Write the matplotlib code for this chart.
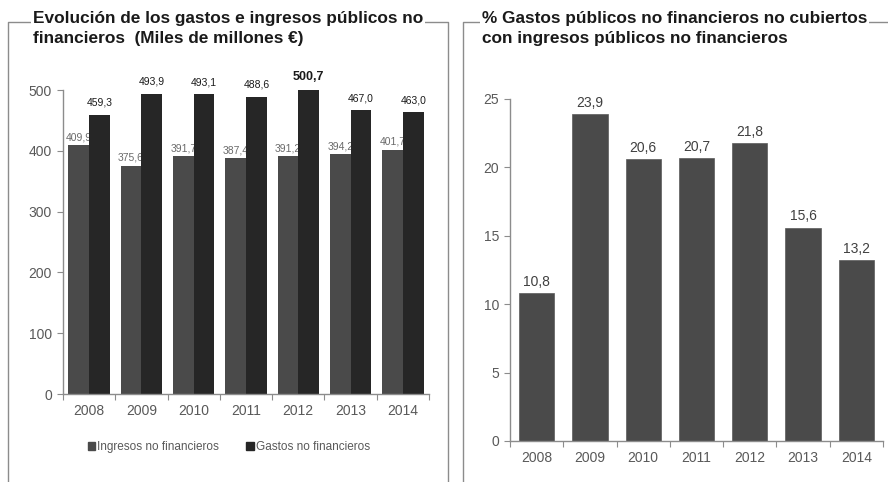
import numpy as np
import matplotlib
matplotlib.use('Agg')
import matplotlib.pyplot as plt
from matplotlib.lines import Line2D
from matplotlib.patches import Rectangle

plt.rcParams['font.family'] = ['Liberation Sans', 'DejaVu Sans']

# datos
years = ['2008', '2009', '2010', '2011', '2012', '2013', '2014']
ingresos = [409.9, 375.6, 391.7, 387.4, 391.2, 394.2, 401.7]
gastos = [459.3, 493.9, 493.1, 488.6, 500.7, 467.0, 463.0]
pct_no_cubierto = [10.8, 23.9, 20.6, 20.7, 21.8, 15.6, 13.2]

c_ing = '#4a4a4a'
c_gas = '#262626'
c_axis = '#8c8c8c'
c_txt = '#595959'


def fmt(v):
    return ('%.1f' % v).replace('.', ',')


def estilo_ejes(ax, n):
    for s in ['top', 'right']:
        ax.spines[s].set_visible(False)
    for s in ['left', 'bottom']:
        ax.spines[s].set_color(c_axis)
        ax.spines[s].set_linewidth(1.0)
    ax.set_xlim(-0.5, n - 0.5)
    # marcas entre categorias, etiquetas en el centro
    ax.set_xticks(np.arange(-0.5, n, 1.0))
    ax.set_xticklabels([])
    ax.set_xticks(np.arange(n), minor=True)
    ax.set_xticklabels(years, minor=True)
    ax.tick_params(axis='x', which='major', length=4, color=c_axis, direction='out')
    ax.tick_params(axis='x', which='minor', length=0, pad=7, labelsize=10, labelcolor=c_txt)
    ax.tick_params(axis='y', length=4, color=c_axis, direction='out', pad=4,
                   labelsize=10, labelcolor=c_txt)


fig = plt.figure(figsize=(8.88, 4.82), dpi=100)
W, H = 888.0, 482.0


def px(x, y):
    return x / W, 1 - y / H


# marcos de los dos paneles
for xs, ys in [([8, 8, 448, 448], [482, 22, 22, 482]),
               ([463, 463, 888], [482, 22, 22])]:
    fig.add_artist(Line2D([x / W for x in xs], [1 - y / H for y in ys],
                          color='#8c8c8c', lw=1.0, transform=fig.transFigure))

# --- grafico izquierdo: ingresos y gastos ---
ax1 = fig.add_axes([63 / W, 1 - 394 / H, 366 / W, 304 / H])
x = np.arange(len(years))
w = 0.396
ax1.bar(x - w / 2, ingresos, w, color=c_ing, zorder=1)
ax1.bar(x + w / 2, gastos, w, color=c_gas, zorder=2)
ax1.set_ylim(0, 500)
ax1.set_yticks(np.arange(0, 501, 100))
estilo_ejes(ax1, len(years))

for i, v in enumerate(ingresos):
    ax1.annotate(fmt(v), (x[i] - w / 2, v), xytext=(0, 2), textcoords='offset points',
                 ha='center', va='bottom', fontsize=7.5, color='#6a6a6a', zorder=1.5,
                 annotation_clip=False)
for i, v in enumerate(gastos):
    bold = v == max(gastos)
    ax1.annotate(fmt(v), (x[i] + w / 2, v), xytext=(0, 5), textcoords='offset points',
                 ha='center', va='bottom', fontsize=9 if bold else 7.5,
                 fontweight='bold' if bold else 'normal', color='#1a1a1a', zorder=3,
                 annotation_clip=False)

handles = [Rectangle((0, 0), 1, 1, color=c_ing), Rectangle((0, 0), 1, 1, color=c_gas)]
fig.legend(handles, ['Ingresos no financieros', 'Gastos no financieros'],
           loc='center', bbox_to_anchor=(px(229, 447)), ncol=2, frameon=False,
           handlelength=0.6, handleheight=0.6, handletextpad=0.2, columnspacing=2.3,
           fontsize=8.5, labelcolor=c_txt)

# --- grafico derecho: % gastos no cubiertos ---
ax2 = fig.add_axes([510 / W, 1 - 441 / H, 373 / W, 342 / H])
ax2.bar(x, pct_no_cubierto, 0.66, color=c_ing, edgecolor='#5a5a5a', linewidth=0.5)
ax2.set_ylim(0, 25)
ax2.set_yticks(np.arange(0, 26, 5))
estilo_ejes(ax2, len(years))
for i, v in enumerate(pct_no_cubierto):
    ax2.annotate(fmt(v), (x[i], v), xytext=(0, 3), textcoords='offset points',
                 ha='center', va='bottom', fontsize=10, color='#404040',
                 annotation_clip=False)

# titulos sobre el borde de los marcos
tb = dict(facecolor='white', edgecolor='none', pad=1.5)
fig.text(*px(33, 11), 'Evolución de los gastos e ingresos públicos no\n'
         'financieros  (Miles de millones €)', ha='left', va='top',
         fontsize=12.4, fontweight='bold', color='#1a1a1a', linespacing=1.45, bbox=tb)
fig.text(*px(482, 11), '% Gastos públicos no financieros no cubiertos\n'
         'con ingresos públicos no financieros', ha='left', va='top',
         fontsize=12.4, fontweight='bold', color='#1a1a1a', linespacing=1.45, bbox=tb)

fig.savefig('out.png', dpi=100, facecolor='white')
